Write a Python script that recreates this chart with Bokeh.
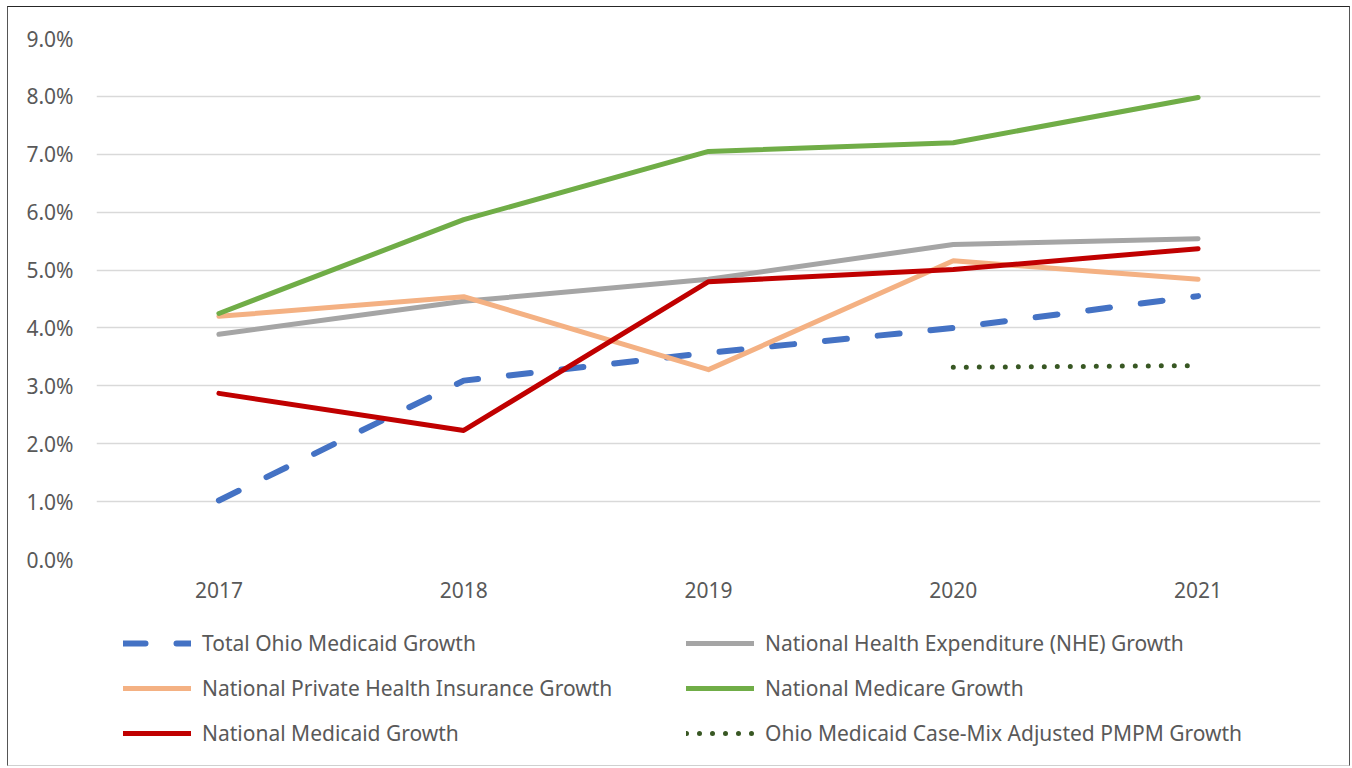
from bokeh.plotting import figure
from bokeh.layouts import column
from bokeh.models import Legend, LegendItem, FactorRange, Range1d, FixedTicker, PrintfTickFormatter
from bokeh.embed import file_html
from bokeh.resources import INLINE

years = ["2017", "2018", "2019", "2020", "2021"]
total_ohio_medicaid = [1.02, 3.09, 3.57, 4.00, 4.55]
nhe_growth = [3.89, 4.46, 4.84, 5.44, 5.54]
private_insurance = [4.20, 4.54, 3.28, 5.16, 4.84]
medicare_growth = [4.25, 5.87, 7.05, 7.20, 7.98]
national_medicaid = [2.87, 2.23, 4.80, 5.01, 5.37]
casemix_years = ["2020", "2021"]
casemix_pmpm = [3.32, 3.35]
y_ticks = [0, 1, 2, 3, 4, 5, 6, 7, 8, 9]

series_labels = [
    "Total Ohio Medicaid Growth",
    "National Health Expenditure (NHE) Growth",
    "National Private Health Insurance Growth",
    "National Medicare Growth",
    "National Medicaid Growth",
    "Ohio Medicaid Case-Mix Adjusted PMPM Growth",
]
series_x = [years, years, years, years, years, casemix_years]
series_y = [total_ohio_medicaid, nhe_growth, private_insurance, medicare_growth,
            national_medicaid, casemix_pmpm]

FONT = "Noto Sans"
TXT = "#595959"
FS = "21px"

styles = [
    dict(line_color="#4472C4", line_width=6, line_dash="22 31", line_cap="round", line_join="round"),
    dict(line_color="#A5A5A5", line_width=5, line_cap="round", line_join="round"),
    dict(line_color="#F4B183", line_width=5, line_cap="round", line_join="round"),
    dict(line_color="#70AD47", line_width=5, line_cap="round", line_join="round"),
    dict(line_color="#C00000", line_width=5, line_cap="round", line_join="round"),
    dict(line_color="#385723", line_width=5, line_dash="0 13", line_cap="round"),
]

p = figure(
    width=1341, height=605,
    x_range=FactorRange(factors=years, range_padding=0),
    y_range=Range1d(0, 9),
    output_backend="svg", toolbar_location=None,
    min_border_left=88, min_border_right=29, min_border_top=31, min_border_bottom=53,
    background_fill_color="#ffffff", border_fill_color="#ffffff",
)
p.outline_line_color = None
p.xgrid.grid_line_color = None
p.ygrid.grid_line_color = "#d9d9d9"
p.ygrid.grid_line_width = 1.5

p.yaxis.ticker = FixedTicker(ticks=y_ticks)
p.yaxis.formatter = PrintfTickFormatter(format="%.1f%%")
for ax in (p.xaxis[0], p.yaxis[0]):
    ax.axis_line_color = None
    ax.major_tick_line_color = None
    ax.minor_tick_line_color = None
    ax.major_tick_out = 0
    ax.major_tick_in = 0
    ax.minor_tick_out = 0
    ax.major_label_text_font = FONT
    ax.major_label_text_font_size = FS
    ax.major_label_text_color = TXT
p.yaxis.major_label_standoff = 23
p.xaxis.major_label_standoff = 22

for xs, ys, st in zip(series_x, series_y, styles):
    p.line(xs, ys, **st)

# legend strip below the chart (its frame is aligned with the chart's frame)
lp = figure(
    width=1341, height=153,
    x_range=FactorRange(factors=years, range_padding=0), y_range=Range1d(100, 101),
    output_backend="svg", toolbar_location=None,
    min_border_left=88, min_border_right=29, min_border_top=0, min_border_bottom=0,
    background_fill_color="#ffffff", border_fill_color="#ffffff",
)
lp.outline_line_color = None
lp.axis.visible = False
lp.grid.visible = False
legend_renderers = []
for xs, ys, st in zip(series_x, series_y, styles):
    r = lp.line(xs, ys, **st)
    r.visible = False
    legend_renderers.append(r)

legend = Legend(
    items=[LegendItem(label=lab, renderers=[r]) for lab, r in zip(series_labels, legend_renderers)],
    location=(27, 18), orientation="horizontal", ncols=2,
    border_line_alpha=0, background_fill_alpha=0,
    padding=0, margin=0, spacing=17,
    glyph_width=68, glyph_height=28, label_height=28,
    label_standoff=11, label_width=467,
    label_text_font=FONT, label_text_font_size=FS, label_text_color=TXT,
)
lp.add_layout(legend, "center")

layout = column(p, lp, spacing=0, margin=(6, 0, 0, 7),
                styles={"border-top": "1px solid #262626", "border-left": "1px solid #555555",
                        "border-right": "1px solid #555555", "border-bottom": "1px solid #d0d0d0"})
open("out.html", "w").write(file_html(layout, INLINE))
